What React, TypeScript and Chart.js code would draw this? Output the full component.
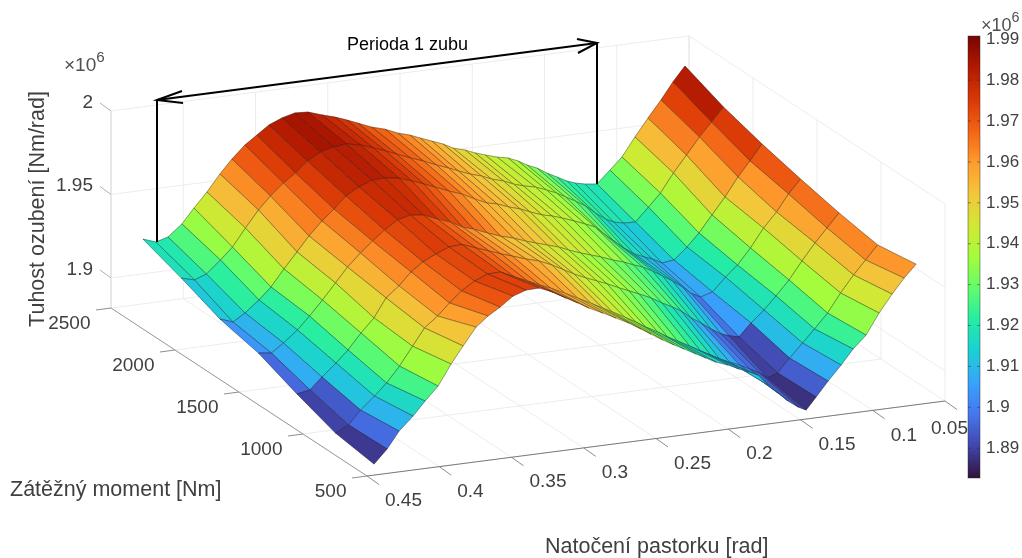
import React, { useEffect, useRef } from "react";
import { Chart, registerables } from "chart.js";

Chart.register(...registerables);

// Pinion angle of every surface column at the 2500 Nm row [rad]
const angleAt2500 = [
  0.4279, 0.4189, 0.4106, 0.4009, 0.3926, 0.3836, 0.3746, 0.3663, 0.3573, 0.349, 0.3407, 0.3317,
  0.3227, 0.3137, 0.304, 0.295, 0.2867, 0.2791, 0.2694, 0.2604, 0.2514, 0.2431, 0.2362, 0.2279,
  0.2202, 0.2133, 0.205, 0.1981, 0.1912, 0.1829, 0.1753, 0.1683, 0.1621, 0.1552, 0.1483, 0.1414,
  0.1344, 0.1289, 0.122, 0.1137, 0.1047, 0.0964, 0.0874, 0.0784, 0.0694, 0.0611, 0.0528,
];
// Extra angle per load step (the surface is sheared with load)
const angleShiftPerStep = 0.00287;
const moments = [500, 833.3, 1166.7, 1500, 1833.3, 2166.7, 2500];

// Mesh stiffness, x 10^6 Nm/rad, one list per load
const stiffness500 = [
  1.8886, 1.8966, 1.9064, 1.9143, 1.9224, 1.9303, 1.9425, 1.9524, 1.9627, 1.9684, 1.9728, 1.9784,
  1.981, 1.9812, 1.9777, 1.9731, 1.9692, 1.9653, 1.9612, 1.9572, 1.9532, 1.9487, 1.9449, 1.9404,
  1.9366, 1.9334, 1.9295, 1.9263, 1.9231, 1.9204, 1.9172, 1.9146, 1.9121, 1.9053, 1.8997, 1.8942,
  1.8898, 1.8874, 1.8944, 1.903, 1.9116, 1.9203, 1.9276, 1.9398, 1.9501, 1.9588, 1.9662,
];
const stiffness833 = [
  1.8901, 1.8939, 1.9019, 1.9092, 1.9161, 1.9252, 1.9361, 1.9461, 1.9522, 1.9591, 1.9654, 1.9703,
  1.9735, 1.9737, 1.9696, 1.9662, 1.9629, 1.9602, 1.9561, 1.9521, 1.9481, 1.9442, 1.941, 1.9371,
  1.9333, 1.9295, 1.9256, 1.9218, 1.9186, 1.9147, 1.9109, 1.9077, 1.9046, 1.902, 1.8994, 1.8963,
  1.8931, 1.8895, 1.8917, 1.8997, 1.9077, 1.9152, 1.9237, 1.9347, 1.9445, 1.9525, 1.9606,
];
const stiffness1167 = [
  1.8964, 1.8978, 1.9046, 1.9119, 1.9188, 1.9279, 1.936, 1.947, 1.9532, 1.9606, 1.9657, 1.9694,
  1.9726, 1.9731, 1.9699, 1.9671, 1.9644, 1.9623, 1.9594, 1.9572, 1.9538, 1.9499, 1.9467, 1.9434,
  1.9407, 1.9382, 1.9349, 1.9323, 1.9297, 1.9264, 1.9225, 1.9194, 1.9163, 1.9113, 1.9075, 1.9031,
  1.8994, 1.8976, 1.8962, 1.9036, 1.9104, 1.9179, 1.9264, 1.9368, 1.9466, 1.9546, 1.9627,
];
const stiffness1500 = [
  1.9038, 1.9028, 1.9079, 1.9146, 1.922, 1.9306, 1.9398, 1.9484, 1.9558, 1.962, 1.9677, 1.9727,
  1.9746, 1.9736, 1.9701, 1.9673, 1.9634, 1.9613, 1.9579, 1.955, 1.9528, 1.9501, 1.9482, 1.946,
  1.944, 1.9414, 1.9387, 1.9367, 1.9348, 1.932, 1.93, 1.9274, 1.9255, 1.9223, 1.9185, 1.9148,
  1.9104, 1.9062, 1.903, 1.9051, 1.913, 1.9193, 1.9285, 1.9394, 1.948, 1.9579, 1.9659,
];
const stiffness1833 = [
  1.9071, 1.9043, 1.9088, 1.9155, 1.9223, 1.9321, 1.9413, 1.9499, 1.9579, 1.9641, 1.971, 1.9754,
  1.9785, 1.9787, 1.9776, 1.9748, 1.9721, 1.9694, 1.9659, 1.9631, 1.9591, 1.9558, 1.9545, 1.9517,
  1.9497, 1.9471, 1.9444, 1.943, 1.941, 1.9383, 1.9357, 1.9331, 1.9282, 1.9232, 1.9182, 1.9139,
  1.9113, 1.9095, 1.9063, 1.9072, 1.9139, 1.9214, 1.9312, 1.9409, 1.9519, 1.9606, 1.9698,
];
const stiffness2167 = [
  1.9145, 1.9124, 1.915, 1.9223, 1.9291, 1.9395, 1.9493, 1.9567, 1.9635, 1.9686, 1.9748, 1.9792,
  1.9812, 1.982, 1.9803, 1.9775, 1.9748, 1.9721, 1.9686, 1.9658, 1.9624, 1.9597, 1.9571, 1.9543,
  1.9523, 1.9497, 1.9476, 1.945, 1.9431, 1.9415, 1.9389, 1.9363, 1.9332, 1.93, 1.9263, 1.9213,
  1.9169, 1.9145, 1.9131, 1.9128, 1.9207, 1.9282, 1.9392, 1.9489, 1.9587, 1.9668, 1.9748,
];
const stiffness2500 = [
  1.9208, 1.918, 1.9201, 1.9268, 1.9354, 1.944, 1.9538, 1.9618, 1.9692, 1.9742, 1.9793, 1.9825,
  1.9845, 1.984, 1.9812, 1.9789, 1.9762, 1.9735, 1.97, 1.9678, 1.9644, 1.9623, 1.9598, 1.957,
  1.9544, 1.9512, 1.9491, 1.9466, 1.9446, 1.9424, 1.941, 1.9384, 1.9353, 1.9327, 1.9289, 1.9258,
  1.9226, 1.9208, 1.9194, 1.9185, 1.9258, 1.9327, 1.9437, 1.954, 1.9638, 1.9737, 1.9823,
];
const stiffnessRows = [
  stiffness500, stiffness833, stiffness1167, stiffness1500, stiffness1833, stiffness2167, stiffness2500,
];

// Axis ticks
const angleTicks = [0.45, 0.4, 0.35, 0.3, 0.25, 0.2, 0.15, 0.1, 0.05];
const angleTickLabels = ["0.45", "0.4", "0.35", "0.3", "0.25", "0.2", "0.15", "0.1", "0.05"];
const momentTicks = [500, 1000, 1500, 2000, 2500];
const stiffTicks = [1.9, 1.95, 2];
const stiffTickLabels = ["1.9", "1.95", "2"];
const colorbarTicks = [1.89, 1.9, 1.91, 1.92, 1.93, 1.94, 1.95, 1.96, 1.97, 1.98, 1.99];
const colorbarMin = 1.8827;
const colorbarMax = 1.9908;
const stiffFloor = 1.882;
const stiffTop = 2;

// Turbo colormap stops
const turboStops = [
  [48, 18, 59], [65, 69, 171], [70, 117, 237], [57, 162, 252], [27, 207, 212],
  [36, 236, 166], [97, 252, 108], [164, 252, 60], [209, 232, 52], [243, 198, 58],
  [254, 155, 45], [243, 99, 21], [217, 56, 6], [177, 25, 1], [122, 4, 3],
];

// Annotation polylines, in chart coordinates
const periodLines = [
  [[157, 242], [157, 100]],
  [[157, 100], [597, 43]],
  [[597, 43], [597, 184]],
  [[182, 91], [157, 100], [183, 103]],
  [[577, 39], [597, 43], [578, 53]],
];

const FONT = '"Liberation Sans", Arial, sans-serif';
const TEXT = "#404040";

function turbo(t: number) {
  const v = Math.max(0, Math.min(1, t)) * (turboStops.length - 1);
  const i = Math.min(Math.floor(v), turboStops.length - 2);
  const k = v - i;
  const c = turboStops[i].map((a, n) => Math.round(a + (turboStops[i + 1][n] - a) * k));
  return `rgb(${c[0]},${c[1]},${c[2]})`;
}

// Orthographic view of the 3-D box onto the flat scales of the chart
function project(angle: number, moment: number, stiff: number) {
  const f = (0.45 - angle) / 0.4;
  const g = (moment - 500) / 2000;
  return {
    x: 367 + 578 * f - 256 * g,
    y: 476 - 75 * f - 168 * g - (stiff - stiffFloor) * 1670,
  };
}

function surfacePoint(r: number, c: number) {
  const angle = angleAt2500[c] + angleShiftPerStep * (moments.length - 1 - r);
  return project(angle, moments[r], stiffnessRows[r][c]);
}

function faceColor(r: number, c: number) {
  const far = stiffnessRows[r + 1][c + 1];
  const z = far < 1.905 ? stiffnessRows[r][c] : far;
  return turbo((z - colorbarMin) / (colorbarMax - colorbarMin));
}

function line(points: { x: number; y: number }[], color: string, width: number, order: number) {
  return {
    data: points,
    showLine: true,
    pointRadius: 0,
    borderColor: color,
    borderWidth: width,
    fill: false,
    order,
  };
}

function buildDatasets() {
  const ds: any[] = [];
  const grid = "#ececec";
  const G = 2000000;
  const A = 1000000;
  // walls and floor
  for (const a of angleTicks) {
    ds.push(line([project(a, 500, stiffFloor), project(a, 2500, stiffFloor), project(a, 2500, stiffTop)], grid, 1, G));
  }
  for (const m of momentTicks) {
    ds.push(line([project(0.45, m, stiffFloor), project(0.05, m, stiffFloor), project(0.05, m, stiffTop)], grid, 1, G));
  }
  for (const z of [...stiffTicks]) {
    ds.push(line([project(0.45, 2500, z), project(0.05, 2500, z), project(0.05, 500, z)], grid, 1, G));
  }
  ds.push(line([project(0.05, 2500, stiffFloor), project(0.05, 2500, stiffTop)], "#e6e6e6", 1, G));
  ds.push(line([project(0.45, 2500, stiffFloor), project(0.45, 2500, stiffTop)], "#c8c8c8", 1, G));
  // axis lines
  ds.push(line([project(0.45, 500, stiffFloor), project(0.05, 500, stiffFloor)], "#7a7a7a", 1, A));
  ds.push(line([project(0.45, 500, stiffFloor), project(0.45, 2500, stiffFloor)], "#9a9a9a", 1, A));
  // ticks
  const tick = "#8c8c8c";
  for (const a of angleTicks) {
    const p = project(a, 500, stiffFloor);
    ds.push(line([p, { x: p.x + 12, y: p.y + 8.5 }], tick, 1, A));
  }
  for (const m of momentTicks) {
    const p = project(0.45, m, stiffFloor);
    ds.push(line([p, { x: p.x - 15, y: p.y + 2 }], tick, 1, A));
  }
  for (const z of stiffTicks) {
    const p = project(0.45, 2500, z);
    ds.push(line([p, { x: p.x - 11, y: p.y - 8 }], "#b0b0b0", 1, A));
  }
  // surface, far faces first
  let order = 500000;
  for (let r = moments.length - 2; r >= 0; r--) {
    for (let c = angleAt2500.length - 2; c >= 0; c--) {
      const pts = [surfacePoint(r, c), surfacePoint(r, c + 1), surfacePoint(r + 1, c + 1), surfacePoint(r + 1, c), surfacePoint(r, c)];
      ds.push({
        ...line(pts, "rgba(20,20,20,0.62)", 0.6, order--),
        backgroundColor: faceColor(r, c),
        quad: true,
      });
    }
  }
  // period annotation
  for (const l of periodLines) {
    ds.push(line(l.map(([x, y]) => ({ x, y })), "#000000", 2, 1));
  }
  return ds;
}

const quadFill = {
  id: "quadFill",
  beforeDatasetDraw(chart: any, args: any) {
    const dataset = chart.data.datasets[args.index];
    if (!dataset.quad) return;
    const ctx = chart.ctx;
    const pts = args.meta.data;
    ctx.save();
    ctx.beginPath();
    pts.forEach((p: any, i: number) => (i ? ctx.lineTo(p.x, p.y) : ctx.moveTo(p.x, p.y)));
    ctx.closePath();
    ctx.fillStyle = dataset.backgroundColor;
    ctx.strokeStyle = dataset.backgroundColor;
    ctx.lineWidth = 0.4;
    ctx.fill();
    ctx.stroke();
    ctx.restore();
  },
};

function exponentLabel(ctx: CanvasRenderingContext2D, x: number, y: number, size: number) {
  ctx.fillStyle = "#505050";
  ctx.textAlign = "left";
  ctx.textBaseline = "alphabetic";
  ctx.font = `${size}px ${FONT}`;
  ctx.fillText("×10", x, y);
  const w = ctx.measureText("×10").width;
  ctx.font = `${size * 0.8}px ${FONT}`;
  ctx.fillText("6", x + w, y - size * 0.48);
}

const axisText = {
  id: "axisText",
  afterDraw(chart: any) {
    const ctx: CanvasRenderingContext2D = chart.ctx;
    ctx.save();
    ctx.fillStyle = TEXT;
    ctx.font = `19px ${FONT}`;
    ctx.textBaseline = "middle";
    ctx.textAlign = "left";
    angleTicks.forEach((a, i) => {
      const p = project(a, 500, stiffFloor);
      const dx = a === 0.05 ? -14 : 18;
      ctx.fillText(angleTickLabels[i], p.x + dx, p.y + (a === 0.05 ? 28 : 25));
    });
    ctx.textAlign = "right";
    momentTicks.forEach((m) => {
      const p = project(0.45, m, stiffFloor);
      ctx.fillText(String(m), p.x - 20.5, p.y + 16);
    });
    stiffTicks.forEach((z, i) => {
      const p = project(0.45, 2500, z);
      ctx.fillText(stiffTickLabels[i], p.x - 18, p.y - 8.5);
    });

    ctx.font = `21.5px ${FONT}`;
    ctx.textAlign = "left";
    ctx.fillText("Zátěžný moment [Nm]", 10, 490);
    ctx.fillText("Natočení pastorku [rad]", 545, 547);
    ctx.save();
    ctx.translate(38, 209);
    ctx.rotate(-Math.PI / 2);
    ctx.textAlign = "center";
    ctx.fillText("Tuhost ozubení [Nm/rad]", 0, 0);
    ctx.restore();

    ctx.fillStyle = "#000000";
    ctx.font = `18px ${FONT}`;
    ctx.textAlign = "left";
    ctx.fillText("Perioda 1 zubu", 347, 45);

    exponentLabel(ctx, 64, 71, 19);
    ctx.restore();
  },
};

const colorbarDecor = {
  id: "colorbarDecor",
  afterDraw(chart: any) {
    const ctx: CanvasRenderingContext2D = chart.ctx;
    const { left, right, top, bottom } = chart.chartArea;
    const scale = chart.scales.y;
    ctx.save();
    ctx.strokeStyle = "rgba(38,38,38,0.55)";
    ctx.lineWidth = 0.8;
    ctx.strokeRect(left, top, right - left, bottom - top);
    colorbarTicks.forEach((v) => {
      const y = scale.getPixelForValue(v);
      ctx.beginPath();
      ctx.moveTo(right - 3, y);
      ctx.lineTo(right, y);
      ctx.moveTo(left, y);
      ctx.lineTo(left + 3, y);
      ctx.stroke();
    });
    exponentLabel(ctx, 21, 31, 18);
    ctx.restore();
  },
};

export default function App() {
  const mainRef = useRef<HTMLCanvasElement>(null);
  const barRef = useRef<HTMLCanvasElement>(null);

  useEffect(() => {
    const main = new Chart(mainRef.current as HTMLCanvasElement, {
      type: "scatter",
      data: { datasets: buildDatasets() },
      plugins: [quadFill, axisText],
      options: {
        animation: false,
        responsive: false,
        events: [],
        layout: { padding: 0 },
        plugins: { legend: { display: false }, tooltip: { enabled: false } },
        scales: {
          x: { type: "linear", display: false, min: 0, max: 1022 },
          y: { type: "linear", display: false, min: 0, max: 558, reverse: true },
        },
      },
    } as any);

    const bar = new Chart(barRef.current as HTMLCanvasElement, {
      type: "bar",
      data: {
        labels: ["colorbar"],
        datasets: [
          {
            data: [[colorbarMin, colorbarMax]],
            barPercentage: 1,
            categoryPercentage: 1,
            borderWidth: 0,
            backgroundColor: (c: any) => {
              const area = c.chart.chartArea;
              if (!area) return "#000";
              const g = c.chart.ctx.createLinearGradient(0, area.bottom, 0, area.top);
              turboStops.forEach((s, i) => g.addColorStop(i / (turboStops.length - 1), `rgb(${s[0]},${s[1]},${s[2]})`));
              return g;
            },
          },
        ],
      },
      plugins: [colorbarDecor],
      options: {
        animation: false,
        responsive: false,
        events: [],
        layout: { padding: { left: 8, top: 36, bottom: 22, right: 0 } },
        plugins: { legend: { display: false }, tooltip: { enabled: false } },
        scales: {
          x: { display: false },
          y: {
            position: "right",
            min: colorbarMin,
            max: colorbarMax,
            grid: { display: false, drawTicks: false },
            border: { display: false },
            afterFit: (s: any) => {
              s.width = 42;
            },
            afterBuildTicks: (s: any) => {
              s.ticks = colorbarTicks.map((value) => ({ value }));
            },
            ticks: {
              padding: 6,
              color: TEXT,
              font: { family: FONT, size: 17 },
              autoSkip: false,
              callback: (v: any) => String(v),
            },
          },
        },
      },
    } as any);

    return () => {
      main.destroy();
      bar.destroy();
    };
  }, []);

  return (
    <div style={{ position: "absolute", left: 0, top: 0, width: 1022, height: 558, overflow: "hidden", background: "#fff" }}>
      <canvas ref={mainRef} width={1022} height={558} style={{ position: "absolute", left: 0, top: 0 }} />
      <canvas ref={barRef} width={62} height={500} style={{ position: "absolute", left: 960, top: 0 }} />
    </div>
  );
}
